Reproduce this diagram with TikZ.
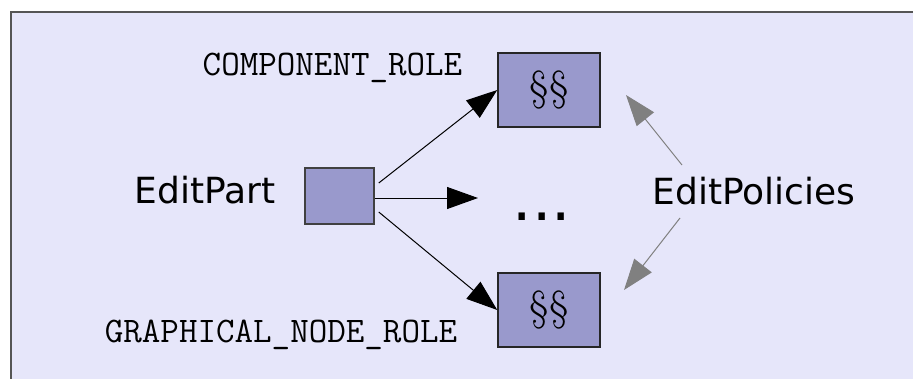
\documentclass[tikz,border=0pt]{standalone}
\usepackage{fontspec}
\usetikzlibrary{arrows.meta,calc}
\newfontfamily\dejavu{DejaVu Sans}
\definecolor{bgcol}{RGB}{230,230,250}
\definecolor{boxcol}{RGB}{153,153,204}
\definecolor{framecol}{RGB}{85,85,85}
\definecolor{arrgray}{RGB}{128,128,128}
\tikzset{
  policybox/.style={draw=black!85, line width=1.5pt, fill=boxcol, inner sep=0pt,
    minimum width=102pt, minimum height=74pt},
  partbox/.style={draw=black!75, line width=1.5pt, fill=boxcol, inner sep=0pt,
    minimum width=69pt, minimum height=56pt},
  bigsans/.style={inner sep=0pt, anchor=base, font=\dejavu\fontsize{36}{40}\selectfont},
  monolabel/.style={inner sep=0pt, anchor=base, font=\ttfamily\fontsize{36}{40}\selectfont},
  blackarrow/.style={line width=1pt, -{Triangle[length=31pt,width=22pt]}},
  grayarrow/.style={draw=arrgray, line width=1pt, -{Triangle[length=31pt,width=22pt]}, arrgray},
}
\begin{document}
\begin{tikzpicture}[x=1pt, y=-1pt]
  \useasboundingbox (0,0) rectangle (913,378);
  \clip (0,0) rectangle (913,378);
  % background frame
  \fill[bgcol] (11,12) rectangle (940,400);
  \draw[framecol, line width=2pt] (11,400) -- (11,12) -- (940,12);

  % nodes
  \node[partbox] (ep) at (339.5,196) {};
  \node[policybox] (p1) at (549,90) {\fontsize{42}{46}\selectfont\raisebox{-3.5pt}{\S\S}};
  \node[policybox] (p2) at (549,310) {\fontsize{42}{46}\selectfont\raisebox{-3.5pt}{\S\S}};

  \node[bigsans] (eptext) at (205,203) {EditPart};
  \node[bigsans] (pol) at (754,204) {EditPolicies};
  \node[inner sep=0pt, anchor=base, font=\dejavu\fontsize{61}{64}\selectfont] (dots) at (542,220) {...};

  \node[monolabel] (crole) at (332.5,75) {COMPONENT\_ROLE};
  \node[monolabel] (grole) at (281,342) {GRAPHICAL\_NODE\_ROLE};

  % connector end points
  \coordinate (mid) at (478,198);
  \coordinate (g1s) at (682,165);
  \coordinate (g1t) at (626,95);
  \coordinate (g2s) at (680,218);
  \coordinate (g2t) at (624,290);

  % black arrows
  \draw[blackarrow] ($(ep.east)+(4,-13)$) -- (p1.west);
  \draw[blackarrow] (ep.east |- mid) -- (mid);
  \draw[blackarrow] ($(ep.east)+(4,16)$) -- (p2.west);

  % gray arrows
  \draw[grayarrow] (g1s) -- (g1t);
  \draw[grayarrow] (g2s) -- (g2t);
\end{tikzpicture}
\end{document}
